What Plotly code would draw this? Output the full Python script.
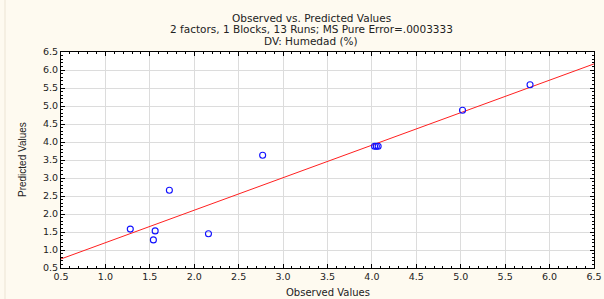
import plotly.graph_objects as go

observed = [1.28, 1.56, 1.54, 1.72, 2.16, 2.77, 4.03, 4.05, 4.07, 5.02, 5.78]
predicted = [1.58, 1.53, 1.28, 2.66, 1.45, 3.63, 3.88, 3.88, 3.88, 4.88, 5.59]
fit_intercept = 0.30
fit_slope = 0.903
x_range = [0.5, 6.5]
y_range = [0.5, 6.5]
title_lines = ["Observed vs. Predicted Values",
               "2 factors, 1 Blocks, 13 Runs; MS Pure Error=.0003333",
               "DV: Humedad (%)"]
x_title = "Observed Values"
y_title = "Predicted Values"

fit_x = list(x_range)
fit_y = [fit_intercept + fit_slope * v for v in fit_x]

L, R, T, B = 61, 10, 52, 31
PW, PH = 604 - L - R, 299 - T - B

fig = go.Figure()
fig.add_trace(go.Scatter(x=fit_x, y=fit_y, mode="lines",
                         line=dict(color="#ff2020", width=1), hoverinfo="skip"))
fig.add_trace(go.Scatter(x=observed, y=predicted, mode="markers",
                         marker=dict(symbol="circle-open", size=6,
                                     color="#1010ff", line=dict(width=1.1))))

tick_font = dict(family="DejaVu Sans", size=9.5, color="#222")
axis_common = dict(
    showgrid=True, gridcolor="#dcdcdc", gridwidth=1,
    showline=True, linecolor="black", linewidth=1, mirror="ticks",
    ticks="inside", ticklen=4, tickcolor="black",
    dtick=0.5, tickformat=".1f", zeroline=False, automargin=False,
    tickfont=tick_font,
    minor=dict(ticks="inside", ticklen=2, dtick=0.1, tickcolor="black", showgrid=False),
)
fig.update_xaxes(range=x_range, **axis_common)
fig.update_yaxes(range=y_range, **axis_common)

title_font = dict(family="DejaVu Sans", size=10.5, color="#222")
for i, t in enumerate(title_lines):
    fig.add_annotation(text=t, xref="paper", yref="paper", x=(311 - L) / PW,
                       y=1 + (T - 18 - 11.5 * i) / PH,
                       showarrow=False, yanchor="middle", xanchor="center", font=title_font)

fig.add_annotation(text=x_title, xref="paper", yref="paper", x=(328 - L) / PW,
                   y=-(292 - (T + PH)) / PH, showarrow=False, xanchor="center",
                   yanchor="middle", font=dict(family="DejaVu Sans", size=10, color="#222"))
fig.add_annotation(text=y_title, xref="paper", yref="paper", x=-(L - 22) / PW,
                   y=1 - (160 - T) / PH, showarrow=False, xanchor="center",
                   yanchor="middle", textangle=-90,
                   font=dict(family="Liberation Sans Narrow, Liberation Sans", size=10, color="#222"))

fig.add_shape(type="line", xref="paper", yref="paper", x0=-(L - 5) / PW, x1=-(L - 5) / PW,
              y0=-B / PH, y1=1 + T / PH, line=dict(color="#ece4d4", width=1))

fig.update_layout(
    width=604, height=299, showlegend=False,
    margin=dict(l=L, r=R, t=T, b=B, autoexpand=False),
    paper_bgcolor="#fefaf0", plot_bgcolor="white",
)
fig.write_html("out.html", config={"displayModeBar": False},
               post_script="document.body.style.margin='0';document.body.style.overflow='hidden';")
